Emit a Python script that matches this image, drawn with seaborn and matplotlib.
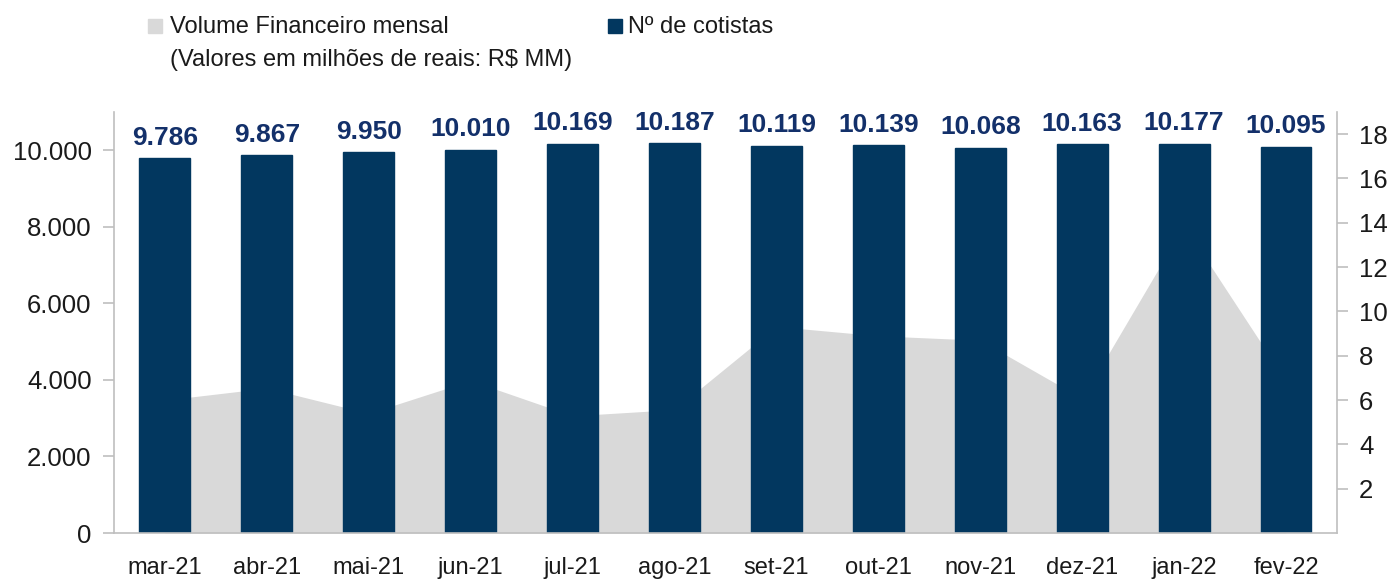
import numpy as np
import pandas as pd
import seaborn as sns
import matplotlib.pyplot as plt
from matplotlib.patches import Rectangle

# data
months = ["mar-21", "abr-21", "mai-21", "jun-21", "jul-21", "ago-21",
          "set-21", "out-21", "nov-21", "dez-21", "jan-22", "fev-22"]
cotistas = [9786, 9867, 9950, 10010, 10169, 10187, 10119, 10139, 10068, 10163, 10177, 10095]
volume = [6.0, 6.54, 5.4, 6.88, 5.29, 5.57, 9.32, 8.9, 8.7, 6.07, 13.88, 6.86]

navy = "#02375F"
label_navy = "#13306A"
grey_area = "#D9D9D9"
axis_grey = "#BFBFBF"

df = pd.DataFrame({"Mes": months, "Cotistas": cotistas, "Volume": volume})

sns.set_style("white")
plt.rcParams["font.family"] = ["Liberation Sans", "DejaVu Sans"]

fig = plt.figure(figsize=(13.95, 5.81), dpi=100)
ax = fig.add_axes([0.0817, 0.0826, 0.8767, 0.7246])
ax2 = ax.twinx()

# area on the secondary axis, kept behind the bars
x = np.arange(len(months))
ax2.fill_between(x, df["Volume"], color=grey_area, linewidth=0)
ax2.set_ylim(0, 19)
ax2.set_yticks(range(2, 19, 2))

sns.barplot(data=df, x="Mes", y="Cotistas", color=navy, width=0.5,
            saturation=1, ax=ax, edgecolor=navy)
ax.set_zorder(ax2.get_zorder() + 1)
ax.patch.set_visible(False)
ax.set_xlim(-0.5, len(months) - 0.5)
ax.set_ylim(0, 11000)
ax.set_yticks(range(0, 10001, 2000))
ax.set_yticklabels([f"{v:,}".replace(",", ".") for v in range(0, 10001, 2000)])
ax.set_xlabel("")
ax.set_ylabel("")

for i, v in enumerate(cotistas):
    ax.text(i, v + 220, f"{v:,}".replace(",", "."), ha="center", va="bottom",
            fontsize=19, fontweight="bold", color=label_navy)

for a in (ax, ax2):
    for s in a.spines.values():
        s.set_visible(False)
    a.grid(False)
ax.spines["left"].set_visible(True)
ax.spines["bottom"].set_visible(True)
ax2.spines["right"].set_visible(True)
for s in (ax.spines["left"], ax.spines["bottom"], ax2.spines["right"]):
    s.set_color(axis_grey)
    s.set_linewidth(1.2)

ax.tick_params(axis="y", length=8, color=axis_grey, width=1.2, labelsize=18.5,
               pad=8, left=True, labelcolor="#1a1a1a")
ax.tick_params(axis="x", length=0, labelsize=17, pad=17, labelcolor="#1a1a1a")
ax2.tick_params(axis="y", length=8, color=axis_grey, width=1.2, labelsize=18.5,
                pad=8, right=True, labelcolor="#1a1a1a")

# legend drawn at the top
fig.add_artist(Rectangle((148 / 1395, 1 - 33 / 581), 14 / 1395, 14 / 581,
                         transform=fig.transFigure, color=grey_area))
fig.text(170 / 1395, 1 - 27 / 581, "Volume Financeiro mensal", fontsize=17,
         va="center", ha="left", color="#1a1a1a")
fig.text(170 / 1395, 1 - 60 / 581, "(Valores em milhões de reais: R$ MM)",
         fontsize=17, va="center", ha="left", color="#1a1a1a")
fig.add_artist(Rectangle((608 / 1395, 1 - 33 / 581), 14 / 1395, 14 / 581,
                         transform=fig.transFigure, color=navy))
fig.text(628 / 1395, 1 - 27 / 581, "Nº de cotistas", fontsize=17,
         va="center", ha="left", color="#1a1a1a")

fig.savefig("out.png", dpi=100)
